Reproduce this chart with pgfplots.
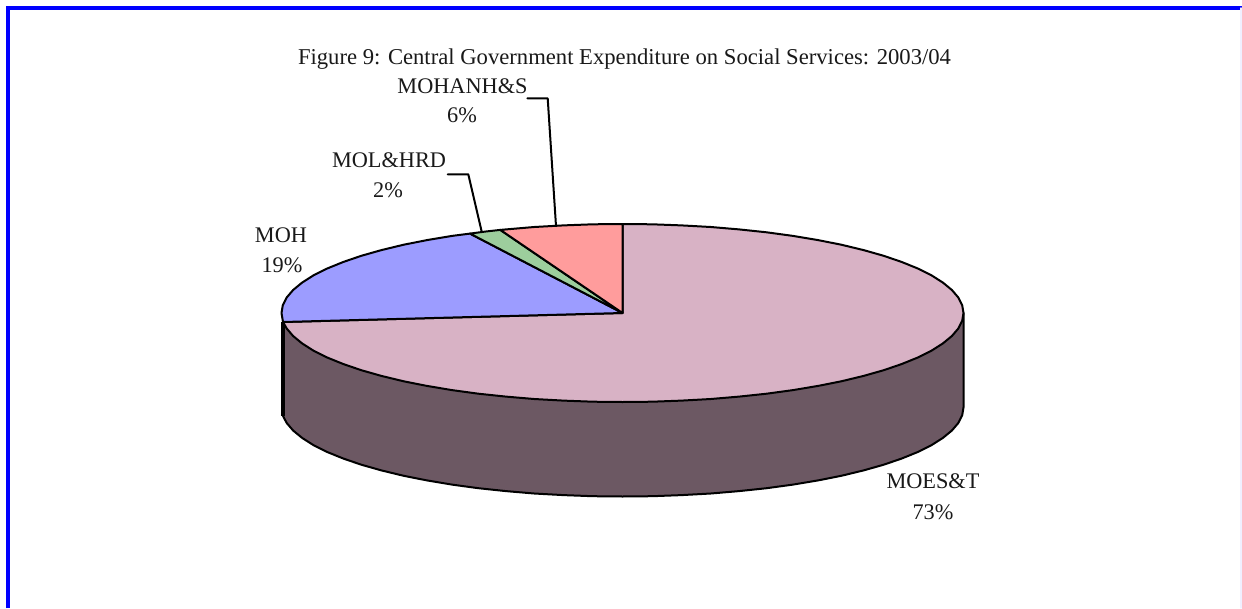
\documentclass[border=0pt]{standalone}
\usepackage{pgfplots}
\pgfplotsset{compat=1.18}
\usepackage{fontspec}
\setmainfont{Liberation Serif}
\definecolor{pinktop}{HTML}{D8B2C5}
\definecolor{pinkside}{HTML}{6C5863}
\definecolor{bluesl}{HTML}{9C9CFF}
\definecolor{greensl}{HTML}{9DCE9D}
\definecolor{redsl}{HTML}{FF9C9C}
\begin{document}
\begin{tikzpicture}
\useasboundingbox (0,0) rectangle (1242pt,608pt);
\begin{axis}[at={(0,0)},anchor=south west,hide axis,scale only axis,width=1242pt,height=608pt,
  xmin=0,xmax=1242,ymin=0,ymax=608,y dir=reverse,clip=true,
  every axis plot/.append style={line join=round,line cap=round,line width=2pt}]
% frame
\addplot[draw=blue,line width=4pt,line cap=butt,line join=miter] coordinates {(8,608) (8,8) (1242,8)};
\addplot[draw=blue!6,line width=1.5pt] coordinates {(1241,8) (1241,608)};
% side wall
\addplot[fill=pinkside,draw=black] coordinates {
(963.5,313) (963.5,407.5) (962.2,415.3) (958.3,423.0) (951.9,430.5) (942.9,437.9) (931.6,445.1) (917.8,452.0) (901.8,458.5) (883.7,464.7) (863.6,470.4) (841.7,475.7) (818.1,480.4) (793.0,484.6) (766.6,488.2) (739.1,491.1) (710.8,493.5) (681.7,495.1) (652.2,496.2) (622.5,496.5) (592.8,496.2) (563.3,495.1) (534.2,493.5) (505.9,491.1) (478.4,488.2) (452.0,484.6) (426.9,480.4) (403.3,475.7) (381.4,470.4) (361.3,464.7) (343.2,458.5) (327.2,452.0) (313.4,445.1) (302.1,437.9) (293.1,430.5) (286.7,423.0) (283,416) (283,322)
} -- cycle;
\addplot[draw=black,line width=3.5pt,line cap=butt] coordinates {(283,322) (283,416)};
% MOES&T top
\addplot[fill=pinktop,draw=black] coordinates {
(622.5,313) (622.5,224) (652.2,224.3) (681.7,225.4) (710.8,227.0) (739.1,229.4) (766.6,232.3) (793.0,235.9) (818.1,240.1) (841.7,244.8) (863.6,250.1) (883.7,255.8) (901.8,262.0) (917.8,268.5) (931.6,275.4) (942.9,282.6) (951.9,290.0) (958.3,297.5) (962.2,305.2) (963.5,313)
(962.2,320.8) (958.3,328.5) (951.9,336.0) (942.9,343.4) (931.6,350.6) (917.8,357.5) (901.8,364.0) (883.7,370.2) (863.6,375.9) (841.7,381.2) (818.1,385.9) (793.0,390.1) (766.6,393.7) (739.1,396.6) (710.8,399.0) (681.7,400.6) (652.2,401.7) (622.5,402)
(592.8,401.7) (563.3,400.6) (534.2,399.0) (505.9,396.6) (478.4,393.7) (452.0,390.1) (426.9,385.9) (403.3,381.2) (381.4,375.9) (361.3,370.2) (343.2,364.0) (327.2,357.5) (313.4,350.6) (302.1,343.4) (293.1,336.0) (286.7,328.5) (283,322)
} -- cycle;
% MOH
\addplot[fill=bluesl,draw=black] coordinates {
(622.5,313) (283,322) (281.5,313) (282.8,305.2) (286.7,297.5) (293.1,290.0) (302.1,282.6) (313.4,275.4) (327.2,268.5) (343.2,262.0) (361.3,255.8) (381.4,250.1) (403.3,244.8) (426.9,240.1) (452.0,235.9) (470,233.6)
} -- cycle;
% MOL&HRD
\addplot[fill=greensl,draw=black] coordinates {
(622.5,313) (470,233.6) (484.9,231.6) (500.3,229.9)
} -- cycle;
% MOHANH&S
\addplot[fill=redsl,draw=black] coordinates {
(622.5,313) (500.3,229.9) (534.2,227.0) (563.3,225.4) (592.8,224.3) (622.5,224)
} -- cycle;
% leaders
\addplot[draw=black] coordinates {(527.3,98.3) (547.7,98.3) (556,226)};
\addplot[draw=black] coordinates {(447.7,174.3) (468.3,174.3) (481.7,231.7)};
% text
\def\fs{\fontsize{22.3}{26}\selectfont}
\node[font=\fontsize{22.65}{26}\selectfont,text=black!90] at (axis cs:624.5,59) {Figure 9: Central Government Expenditure on Social Services: 2003/04};
\node[font=\fs,text=black!90] at (axis cs:462.5,86.5) {MOHANH\&S};
\node[font=\fs,text=black!90] at (axis cs:462,115.5) {6\%};
\node[font=\fs,text=black!90] at (axis cs:389,160.5) {MOL\&HRD};
\node[font=\fs,text=black!90] at (axis cs:388,190.5) {2\%};
\node[font=\fs,text=black!90] at (axis cs:281,235.5) {MOH};
\node[font=\fs,text=black!90] at (axis cs:282,265.5) {19\%};
\node[font=\fs,text=black!90] at (axis cs:933,481.5) {MOES\&T};
\node[font=\fs,text=black!90] at (axis cs:933,512.5) {73\%};
\end{axis}
\end{tikzpicture}
\end{document}
